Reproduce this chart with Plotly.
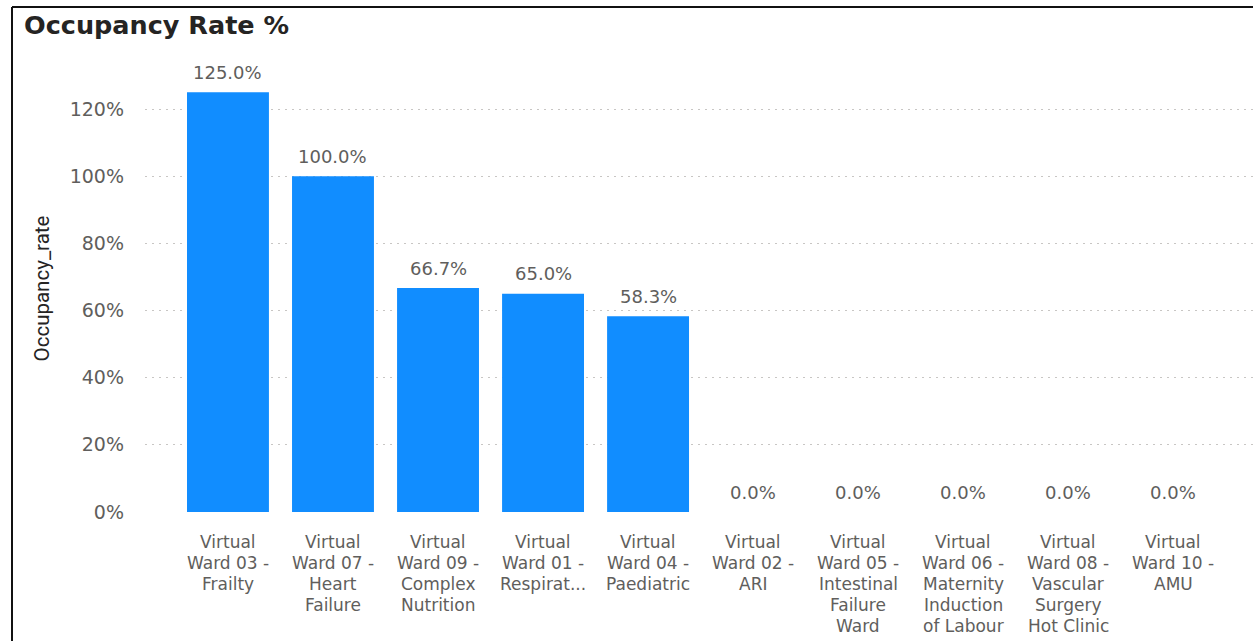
import plotly.graph_objects as go

# Ward occupancy data
ward_labels = [
    ["Virtual", "Ward 03 -", "Frailty"],
    ["Virtual", "Ward 07 -", "Heart", "Failure"],
    ["Virtual", "Ward 09 -", "Complex", "Nutrition"],
    ["Virtual", "Ward 01 -", "Respirat..."],
    ["Virtual", "Ward 04 -", "Paediatric"],
    ["Virtual", "Ward 02 -", "ARI"],
    ["Virtual", "Ward 05 -", "Intestinal", "Failure", "Ward"],
    ["Virtual", "Ward 06 -", "Maternity", "Induction", "of Labour"],
    ["Virtual", "Ward 08 -", "Vascular", "Surgery", "Hot Clinic"],
    ["Virtual", "Ward 10 -", "AMU"],
]
occupancy_rate = [125.0, 100.0, 66.7, 65.0, 58.3, 0.0, 0.0, 0.0, 0.0, 0.0]
y_ticks = [0, 20, 40, 60, 80, 100, 120]

FONT = "DejaVu Sans, sans-serif"
GREY = "#605E5C"
DARK = "#252423"
BLUE = "#118DFF"

W, H = 1253, 641
L, R, T, B = 145, 0, 65, 129  # plot area: x 145..1253, y 65..512

positions = list(range(len(ward_labels)))

fig = go.Figure()
fig.add_trace(go.Bar(
    x=positions,
    y=occupancy_rate,
    marker=dict(color=BLUE, line=dict(width=0)),
    width=0.78,
    hoverinfo="skip",
))

plot_w = W - L - R
plot_h = H - T - B


def px_x(px):
    return (px - L) / plot_w


def px_y(py):
    return (H - B - py) / plot_h


fig.update_layout(
    width=W, height=H,
    margin=dict(l=L, r=R, t=T, b=B, pad=0),
    paper_bgcolor="white",
    plot_bgcolor="white",
    showlegend=False,
    font=dict(family=FONT, size=18, color=GREY),
    xaxis=dict(
        range=[-0.79, 9.76],
        showticklabels=False,
        showgrid=False,
        zeroline=False,
        showline=False,
        ticks="",
    ),
    yaxis=dict(
        range=[0, (H - B - T) / 3.358],
        tickmode="array",
        tickvals=y_ticks,
        ticktext=[f"{t}%" for t in y_ticks],
        tickfont=dict(family=FONT, size=19, color=GREY),
        showgrid=True,
        gridcolor="#C8C6C4",
        griddash="2px,5px",
        gridwidth=1,
        zeroline=False,
        showline=False,
        ticks="",
        ticklabelstandoff=20,
        title=dict(
            text="Occupancy_rate",
            font=dict(family="Roboto, sans-serif", size=20.5, color=DARK),
            standoff=14,
        ),
    ),
)

# Data labels above each bar
for xi, v in zip(positions, occupancy_rate):
    fig.add_annotation(
        x=xi, y=v, xref="x", yref="y",
        text=f"{v:.1f}%", showarrow=False,
        yanchor="middle", yshift=20,
        font=dict(family=FONT, size=18, color=GREY),
    )

# Category labels, one line at a time for tight line spacing
for xi, lines in zip(positions, ward_labels):
    for k, line in enumerate(lines):
        fig.add_annotation(
            x=xi, y=0, xref="x", yref="y",
            text=line, showarrow=False,
            yanchor="middle", yshift=-(30 + 21 * k),
            font=dict(family=FONT, size=17, color=GREY),
        )

# Title
fig.add_annotation(
    xref="paper", yref="paper",
    x=px_x(22), y=px_y(8),
    xanchor="left", yanchor="top",
    text="Occupancy Rate %",
    showarrow=False,
    font=dict(family=FONT, size=25.5, color=DARK, weight=600),
)

# Visual frame (top and left edges)
fig.add_shape(type="line", xref="paper", yref="paper",
              x0=px_x(12), x1=px_x(W + 2), y0=px_y(7), y1=px_y(7),
              line=dict(color="#111111", width=2))
fig.add_shape(type="line", xref="paper", yref="paper",
              x0=px_x(12), x1=px_x(12), y0=px_y(7), y1=px_y(H + 2),
              line=dict(color="#111111", width=2))

fig.write_html("out.html")
